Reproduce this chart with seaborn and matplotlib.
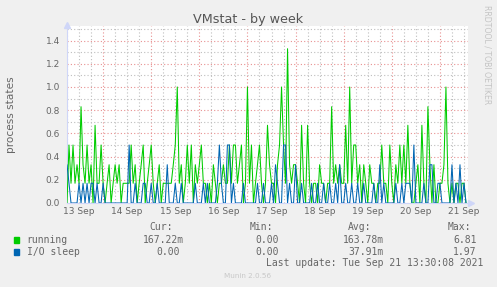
import matplotlib
matplotlib.use("Agg")
import matplotlib.pyplot as plt
import matplotlib.dates as mdates
from matplotlib.ticker import MultipleLocator, FuncFormatter
from matplotlib.patches import Rectangle
import seaborn as sns
import pandas as pd

# ---- data (hourly samples) ----
start_time = "2021-09-13 06:00"

running_13 = [0.0, 0.5, 0.17, 0.5, 0.17, 0.33, 0.17, 0.83, 0.33, 0.17, 0.5, 0.17, 0.33, 0.0, 0.67, 0.17, 0.17, 0.5]
running_14 = [0.17, 0.0, 0.17, 0.33, 0.0, 0.17, 0.33, 0.17, 0.33, 0.0, 0.17, 0.17, 0.17, 0.17, 0.5, 0.17, 0.33, 0.0, 0.17, 0.33, 0.5, 0.0, 0.17, 0.33]
running_15 = [0.5, 0.17, 0.0, 0.17, 0.33, 0.0, 0.17, 0.17, 0.17, 0.17, 0.17, 0.33, 0.5, 1.0, 0.17, 0.33, 0.0, 0.17, 0.5, 0.17, 0.5, 0.0, 0.33, 0.17]
running_16 = [0.33, 0.5, 0.17, 0.17, 0.0, 0.17, 0.0, 0.33, 0.17, 0.0, 0.17, 0.17, 0.33, 0.17, 0.17, 0.5, 0.17, 0.5, 0.5, 0.17, 0.33, 0.5, 0.0, 0.17]
running_17 = [1.0, 0.17, 0.5, 0.0, 0.17, 0.33, 0.5, 0.17, 0.0, 0.17, 0.67, 0.33, 0.17, 0.17, 0.0, 0.33, 0.5, 1.0, 0.5, 0.17, 1.33, 0.33, 0.17, 0.33]
running_18 = [0.33, 0.17, 0.0, 0.67, 0.17, 0.0, 0.67, 0.17, 0.0, 0.17, 0.17, 0.0, 0.33, 0.17, 0.17, 0.0, 0.17, 0.17, 0.83, 0.17, 0.33, 0.17, 0.33, 0.17]
running_19 = [0.17, 0.67, 0.17, 1.0, 0.17, 0.5, 0.5, 0.17, 0.33, 0.0, 0.33, 0.17, 0.0, 0.33, 0.17, 0.17, 0.0, 0.17, 0.17, 0.5, 0.17, 0.17, 0.0, 0.5]
running_20 = [0.17, 0.0, 0.33, 0.17, 0.5, 0.17, 0.5, 0.17, 0.67, 0.17, 0.0, 0.0, 0.17, 0.33, 0.0, 0.67, 0.17, 0.0, 0.83, 0.33, 0.0, 0.33, 0.0, 0.0]
running_21 = [0.17, 0.17, 0.33, 1.0, 0.17, 0.0, 0.17, 0.0, 0.17, 0.17, 0.0, 0.17, 0.17, 0.0]

io_13 = [0.33, 0.17, 0, 0, 0, 0, 0.17, 0, 0.17, 0, 0.17, 0, 0.17, 0.17, 0, 0.17, 0, 0]
io_14 = [0.17, 0, 0, 0, 0, 0, 0, 0, 0, 0, 0, 0, 0, 0.5, 0, 0, 0.17, 0, 0, 0, 0.17, 0.17, 0, 0]
io_15 = [0.17, 0, 0, 0.17, 0, 0, 0, 0, 0.33, 0, 0, 0, 0.17, 0, 0, 0.17, 0, 0, 0, 0, 0, 0, 0.17, 0]
io_16 = [0, 0, 0.17, 0, 0.17, 0, 0, 0, 0, 0.17, 0.5, 0.17, 0, 0, 0.5, 0.5, 0, 0.17, 0, 0, 0, 0, 0.17, 0]
io_17 = [0, 0, 0, 0, 0, 0.17, 0, 0, 0.17, 0, 0, 0, 0.17, 0, 0.33, 0.17, 0, 0, 0.5, 0.5, 0, 0.17, 0, 0]
io_18 = [0.33, 0, 0, 0.17, 0, 0, 0, 0, 0.17, 0, 0, 0.17, 0, 0, 0.17, 0, 0, 0.17, 0, 0, 0.17, 0, 0.33, 0]
io_19 = [0, 0.17, 0, 0, 0.17, 0, 0, 0.17, 0, 0, 0.17, 0, 0, 0, 0, 0.17, 0, 0, 0.33, 0, 0.17, 0, 0, 0]
io_20 = [0, 0, 0.17, 0, 0, 0.17, 0, 0.17, 0.17, 0.17, 0, 0.5, 0, 0, 0, 0, 0.17, 0, 0, 0.33, 0.33, 0, 0, 0.17]
io_21 = [0.17, 0, 0, 0, 0, 0, 0.33, 0, 0.17, 0, 0.33, 0, 0.17, 0]

series_names = ["running", "I/O sleep"]
series_colors = ["#00CC00", "#0066B3"]

legend_cur = ["167.22m", "0.00"]
legend_min = ["0.00", "0.00"]
legend_avg = ["163.78m", "37.91m"]
legend_max = ["6.81", "1.97"]

title = "VMstat - by week"
ylabel = "process states"
last_update = "Last update: Tue Sep 21 13:30:08 2021"

# ---- build table ----
running = (running_13 + running_14 + running_15 + running_16 + running_17
           + running_18 + running_19 + running_20 + running_21)
iosleep = io_13 + io_14 + io_15 + io_16 + io_17 + io_18 + io_19 + io_20 + io_21
times = pd.date_range(start_time, periods=len(running), freq="h")
df = pd.concat([
    pd.DataFrame({"time": times, "value": running, "series": series_names[0]}),
    pd.DataFrame({"time": times, "value": iosleep, "series": series_names[1]}),
], ignore_index=True)

W, H = 497, 287
sns.set_style("white")
plt.rcParams["font.family"] = ["DejaVu Sans"]

fig = plt.figure(figsize=(W / 100, H / 100), dpi=100, facecolor="#F0F0F0")
ax = fig.add_axes([67 / W, (H - 203) / H, 401 / W, 177.5 / H])
ax.set_facecolor("white")

sns.lineplot(data=df, x="time", y="value", hue="series", hue_order=series_names,
             palette=series_colors, legend=False, linewidth=0.75, ax=ax, zorder=3)

ax.set_xlim(pd.Timestamp("2021-09-13 06:00"), pd.Timestamp("2021-09-21 14:00"))
ax.set_ylim(0, 1.53)
ax.set_xlabel("")
ax.set_ylabel("")

# grids
dot = (0, (1, 2))
ax.xaxis.set_major_locator(mdates.DayLocator())
ax.xaxis.set_minor_locator(mdates.HourLocator(byhour=[6, 12, 18]))
ax.xaxis.set_major_formatter(FuncFormatter(lambda v, p: ""))
ax.xaxis.set_minor_formatter(FuncFormatter(
    lambda v, p: mdates.num2date(v).strftime("%d %b") if mdates.num2date(v).hour == 12 else ""))
ax.yaxis.set_major_locator(MultipleLocator(0.2))
ax.yaxis.set_minor_locator(MultipleLocator(0.1))
ax.yaxis.set_major_formatter(FuncFormatter(lambda v, p: f"{v:.1f}"))
ax.set_axisbelow(True)
ax.grid(which="major", color="#E89090", linestyle=dot, linewidth=0.8)
ax.grid(which="minor", color="#BEBEBE", linestyle=dot, linewidth=0.8)

ax.tick_params(which="both", length=0, colors="#666666", labelsize=6.5)
ax.tick_params(axis="y", pad=5)
ax.tick_params(axis="x", which="minor", pad=3)

for s in ["top", "right"]:
    ax.spines[s].set_visible(False)
for s in ["left", "bottom"]:
    ax.spines[s].set_color("#CFD6F8")
    ax.spines[s].set_linewidth(0.8)

# axis arrows
ax.plot([0], [1.005], marker="^", markersize=4, color="#CFD6F8", transform=ax.transAxes, clip_on=False)
ax.plot([1.008], [0], marker=">", markersize=4, color="#CFD6F8", transform=ax.transAxes, clip_on=False)

def ftext(x, y, s, **kw):
    fig.text(x / W, 1 - y / H, s, **kw)

ftext(248, 19.5, title, ha="center", va="center", fontsize=9.2, color="#555555")
ftext(11, 115, ylabel, ha="center", va="center", rotation=90, fontsize=7.6, color="#666666")
ftext(487, 5, "RRDTOOL / TOBI OETIKER", ha="center", va="top", rotation=270,
      fontsize=5.6, color="#C4C4C4")

mono = dict(family="DejaVu Sans Mono", fontsize=7, color="#666666", va="center", ha="left")
ftext(149.3, 227.3, "Cur:", **mono)
ftext(249.3, 227.3, "Min:", **mono)
ftext(348.3, 227.3, "Avg:", **mono)
ftext(447.3, 227.3, "Max:", **mono)

rows_y = [240, 252]
cur_x = [143.3, 156]
avg_x = [342.7, 348.3]
for i in range(2):
    y = rows_y[i]
    fig.add_artist(Rectangle((14 / W, 1 - (y + 2.7) / H), 5.4 / W, 5.4 / H,
                             transform=fig.transFigure, color=series_colors[i]))
    ftext(26.7, y, series_names[i], **mono)
    ftext(cur_x[i], y, legend_cur[i], **mono)
    ftext(255.3, y, legend_min[i], **mono)
    ftext(avg_x[i], y, legend_avg[i], **mono)
    ftext(453.3, y, legend_max[i], **mono)

ftext(483, 263.3, last_update, **{**mono, "ha": "right"})
ftext(248, 276, "Munin 2.0.56", ha="center", va="center", fontsize=5.2, color="#C8C8C8")

fig.savefig("out.png", dpi=100, facecolor="#F0F0F0")
